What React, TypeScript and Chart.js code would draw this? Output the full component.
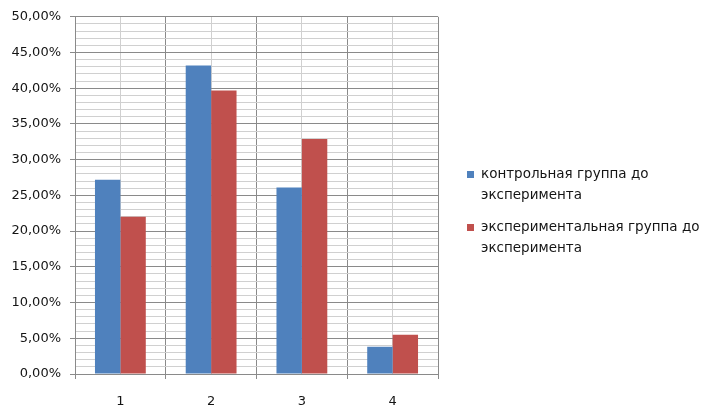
import React, { useEffect, useRef } from 'react';
import { Chart, registerables } from 'chart.js';

Chart.register(...registerables);

const categories = ['1', '2', '3', '4'];
const seriesNames = [
  'контрольная группа до эксперимента',
  'экспериментальная группа до эксперимента',
];
const controlValues = [27.2, 43.2, 26.1, 3.8];
const experimentalValues = [22.0, 39.7, 32.9, 5.5];
const seriesColors = ['#4F81BD', '#C0504D'];
const yMin = 0;
const yMax = 50;
const yMinorStep = 1;
const yMajorStep = 5;

const FONT = '"DejaVu Sans", sans-serif';
const TEXT_COLOR = '#141414';
const MAJOR_GRID = '#8a8a8a';
const MINOR_GRID = '#d0d0d0';

function wrapText(ctx: CanvasRenderingContext2D, text: string, maxW: number): string[] {
  const words = text.split(' ');
  const lines: string[] = [];
  let cur = '';
  for (const w of words) {
    const test = cur ? cur + ' ' + w : w;
    if (cur && ctx.measureText(test).width > maxW) {
      lines.push(cur);
      cur = w;
    } else {
      cur = test;
    }
  }
  if (cur) lines.push(cur);
  return lines;
}

const sideLegend = {
  id: 'sideLegend',
  afterDraw(chart: any) {
    const ctx: CanvasRenderingContext2D = chart.ctx;
    const area = chart.chartArea;
    const boxX = area.right + 29;
    const textX = boxX + 14;
    const maxW = chart.width - textX - 2;
    ctx.save();
    ctx.font = `13.5px ${FONT}`;
    const items = chart.data.datasets.map((ds: any) => wrapText(ctx, ds.label, maxW));
    const lineH = 20.5;
    const gap = 12;
    const total =
      items.reduce((s: number, l: string[]) => s + l.length * lineH, 0) + gap * (items.length - 1);
    let y = chart.height / 2 + 3 - total / 2;
    items.forEach((lines: string[], i: number) => {
      ctx.fillStyle = chart.data.datasets[i].backgroundColor;
      ctx.fillRect(boxX, Math.round(y + lineH / 2 - 3.5), 7, 7);
      ctx.fillStyle = TEXT_COLOR;
      ctx.textBaseline = 'middle';
      ctx.textAlign = 'left';
      lines.forEach((ln, j) => ctx.fillText(ln, textX, y + lineH / 2 + j * lineH));
      y += lines.length * lineH + gap;
    });
    ctx.restore();
  },
};

export default function App() {
  const canvasRef = useRef<HTMLCanvasElement | null>(null);

  useEffect(() => {
    if (!canvasRef.current) return;
    const isMajor = (v: number) => Math.abs(v % yMajorStep) < 1e-9;
    const chart = new Chart(canvasRef.current, {
      type: 'bar',
      data: {
        labels: categories,
        datasets: [
          {
            label: seriesNames[0],
            data: controlValues,
            backgroundColor: seriesColors[0],
            borderWidth: 0,
            categoryPercentage: 0.56,
            barPercentage: 1,
          },
          {
            label: seriesNames[1],
            data: experimentalValues,
            backgroundColor: seriesColors[1],
            borderWidth: 0,
            categoryPercentage: 0.56,
            barPercentage: 1,
          },
        ],
      },
      options: {
        animation: false,
        responsive: true,
        maintainAspectRatio: false,
        layout: { padding: { top: 10, right: 272, bottom: 0, left: 0 } },
        plugins: {
          legend: { display: false },
          tooltip: { enabled: false },
        },
        scales: {
          x: {
            offset: true,
            grid: { offset: true, color: MAJOR_GRID, tickLength: 5, tickColor: MAJOR_GRID },
            border: { color: MAJOR_GRID },
            ticks: { padding: 15, color: TEXT_COLOR, font: { family: FONT, size: 13 } },
            afterFit: (s: any) => {
              s.height = 43;
            },
          },
          x2: {
            type: 'category',
            labels: categories,
            position: 'bottom',
            offset: true,
            grid: { offset: false, color: MINOR_GRID, drawTicks: false },
            border: { display: false },
            ticks: { display: false },
            afterFit: (s: any) => {
              s.height = 0;
            },
          },
          y: {
            min: yMin,
            max: yMax,
            ticks: {
              stepSize: yMinorStep,
              autoSkip: false,
              padding: 9,
              color: TEXT_COLOR,
              font: { family: FONT, size: 13 },
              callback: (v: any) =>
                isMajor(Number(v)) ? Number(v).toFixed(2).replace('.', ',') + '%' : '',
            },
            grid: {
              color: (c: any) => (c.tick && isMajor(c.tick.value) ? MAJOR_GRID : MINOR_GRID),
              tickColor: (c: any) =>
                c.tick && isMajor(c.tick.value) ? MAJOR_GRID : 'rgba(0,0,0,0)',
              tickLength: 5,
            },
            border: { color: MAJOR_GRID },
            afterFit: (s: any) => {
              s.width = 75;
            },
          },
        },
      } as any,
      plugins: [sideLegend as any],
    });
    return () => chart.destroy();
  }, []);

  return (
    <div style={{ position: 'absolute', left: 0, top: 0, width: 710, height: 417, background: '#fff' }}>
      <canvas ref={canvasRef} />
    </div>
  );
}
